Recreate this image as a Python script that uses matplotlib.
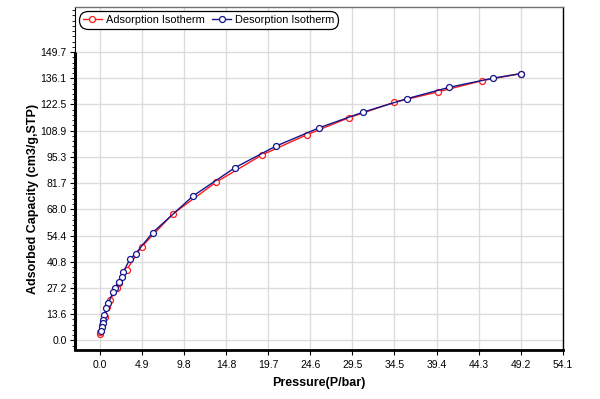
import matplotlib
matplotlib.use('Agg')
import matplotlib.pyplot as plt
from matplotlib.ticker import FixedLocator, AutoMinorLocator
import numpy as np

# adsorption branch (red)
ads_pressure = [0.03, 0.06, 0.3, 0.6, 0.85, 1.2, 1.95, 2.2, 3.12, 4.88, 8.57,
                13.6, 19.0, 24.2, 29.1, 34.4, 39.5, 44.7, 49.2]
ads_capacity = [3.1, 4.5, 8.0, 12.0, 17.1, 20.8, 27.3, 29.9, 36.5, 48.6, 65.8,
                82.2, 96.4, 106.8, 115.6, 123.6, 129.0, 134.9, 138.5]

# desorption branch (blue)
des_pressure = [49.2, 45.9, 40.85, 35.9, 30.7, 25.65, 20.55, 15.8, 10.9, 6.16,
                4.18, 3.5, 2.73, 2.54, 2.2, 1.75, 1.56, 0.97, 0.78, 0.5, 0.39,
                0.32, 0.2, 0.1]
des_capacity = [138.5, 136.1, 131.4, 125.5, 118.4, 110.4, 100.8, 89.7, 75.0,
                55.9, 45.0, 42.1, 35.3, 32.9, 30.1, 27.3, 25.2, 19.2, 16.9,
                13.1, 10.5, 8.8, 6.75, 5.0]

x_max = 54.1
y_max = 149.7
n_div = 11
x_ticks = [x_max * i / n_div for i in range(n_div + 1)]
y_ticks = [y_max * i / n_div for i in range(n_div + 1)]
x_labels = ['0.0', '4.9', '9.8', '14.8', '19.7', '24.6', '29.5', '34.5',
            '39.4', '44.3', '49.2', '54.1']
y_labels = ['0.0', '13.6', '27.2', '40.8', '54.4', '68.0', '81.7', '95.3',
            '108.9', '122.5', '136.1', '149.7']

plt.rcParams['font.family'] = ['Liberation Sans', 'DejaVu Sans']

fig = plt.figure(figsize=(6, 3.99), dpi=100)
ax = fig.add_axes([0.125, 0.1228, 0.813, 0.8597])

x_lo, x_hi = -2.9, x_max
y_lo, y_hi = -5.0, 173.1
ax.set_xlim(x_lo, x_hi)
ax.set_ylim(y_lo, y_hi)

red = '#ff1a1a'
blue = '#14148c'
ax.plot(ads_pressure, ads_capacity, '-o', color=red, lw=1.0, ms=4.3,
        mfc='white', mec=red, mew=0.9, label='Adsorption Isotherm', zorder=3)
ax.plot(des_pressure, des_capacity, '-o', color=blue, lw=1.0, ms=4.3,
        mfc='white', mec=blue, mew=0.9, label='Desorption Isotherm', zorder=4)

ax.xaxis.set_major_locator(FixedLocator(x_ticks))
ax.yaxis.set_major_locator(FixedLocator(y_ticks))
ax.set_xticklabels(x_labels)
ax.set_yticklabels(y_labels)
ax.yaxis.set_minor_locator(AutoMinorLocator(5))
ax.tick_params(axis='both', which='major', direction='out', length=3.5,
               width=0.8, labelsize=7.5, colors='black')
ax.tick_params(axis='x', which='major', pad=4)
ax.tick_params(axis='y', which='major', pad=2.5)
ax.tick_params(axis='y', which='minor', direction='out', length=2, width=0.6)

ax.grid(True, which='major', color='#dcdcdc', lw=1.0, zorder=0)
ax.set_axisbelow(True)

# frame: thin box, thick left/bottom axis lines
ax.spines['top'].set_color('#707070')
ax.spines['top'].set_linewidth(1.0)
ax.spines['right'].set_color('black')
ax.spines['right'].set_linewidth(1.0)
ax.spines['left'].set_linewidth(0.8)
ax.spines['bottom'].set_linewidth(2.0)
ax.plot([x_lo, x_lo], [y_lo, y_max], color='black', lw=2.2, clip_on=False,
        zorder=5, solid_capstyle='butt')

ax.set_xlabel('Pressure(P/bar)', fontsize=9, fontweight='bold', labelpad=5)
ax.set_ylabel('Adsorbed Capacity (cm3/g,STP)', fontsize=9, fontweight='bold')
ax.yaxis.set_label_coords(-0.074, 0.44)

leg = ax.legend(loc='upper left', bbox_to_anchor=(0.01, 0.985), ncol=2,
                fontsize=7.9, frameon=True, borderaxespad=0, handlelength=1.8,
                handletextpad=0.35, columnspacing=0.6, borderpad=0.25,
                fancybox=True)
frame = leg.get_frame()
frame.set_edgecolor('black')
frame.set_linewidth(0.9)
frame.set_alpha(1)
frame.set_boxstyle('round,pad=0.1,rounding_size=0.8')

fig.savefig('out.png', dpi=100, facecolor='white')
